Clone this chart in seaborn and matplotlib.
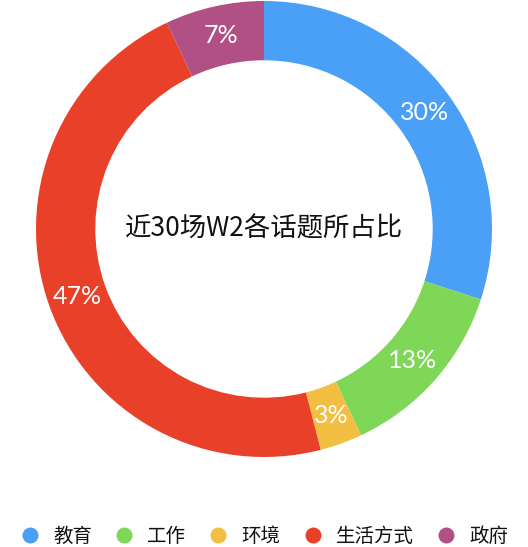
import matplotlib
matplotlib.use("Agg")
import matplotlib.pyplot as plt
import seaborn as sns
from matplotlib.lines import Line2D

# topic shares (percent), clockwise from 12 o'clock
topics = ['教育', '工作', '环境', '生活方式', '政府']
shares = [30, 13, 3, 47, 7]
colors = ['#4AA0F6', '#7ED756', '#F2BF42', '#E9402A', '#B05084']
title = '近30场W2各话题所占比'

sns.set_theme(style="white")
plt.rcParams['font.family'] = ['Noto Sans CJK SC', 'DejaVu Sans']

fig = plt.figure(figsize=(5.28, 5.47), dpi=100)
# pie centred at (264, 229) px with radius 228 px
ax = fig.add_axes([36 / 528, (547 - 457) / 547, 456 / 528, 456 / 547])

wedges, texts, autotexts = ax.pie(
    shares,
    colors=colors,
    startangle=90,
    counterclock=False,
    radius=1,
    autopct=lambda p: f'{p:.0f}%',
    pctdistance=0.87,
    wedgeprops=dict(width=0.26, edgecolor='none'),
    textprops=dict(color='white', fontsize=18, family=['Lato', 'DejaVu Sans']),
)
ax.set_xlim(-1, 1)
ax.set_ylim(-1, 1)
ax.set_aspect('equal')
ax.axis('off')

ax.text(0, 0, title, ha='center', va='center', fontsize=19, color='#111111')

handles = [Line2D([0], [0], marker='o', linestyle='none', markersize=11.5,
                  markerfacecolor=c, markeredgecolor='none') for c in colors]
fig.legend(handles, topics, loc='center', bbox_to_anchor=(0.5, 0.02), ncol=5,
           frameon=False, fontsize=14, handlelength=1.0, handletextpad=0.69,
           columnspacing=1.15, borderaxespad=0, labelcolor='#111111')

fig.savefig('out.png', dpi=100)
